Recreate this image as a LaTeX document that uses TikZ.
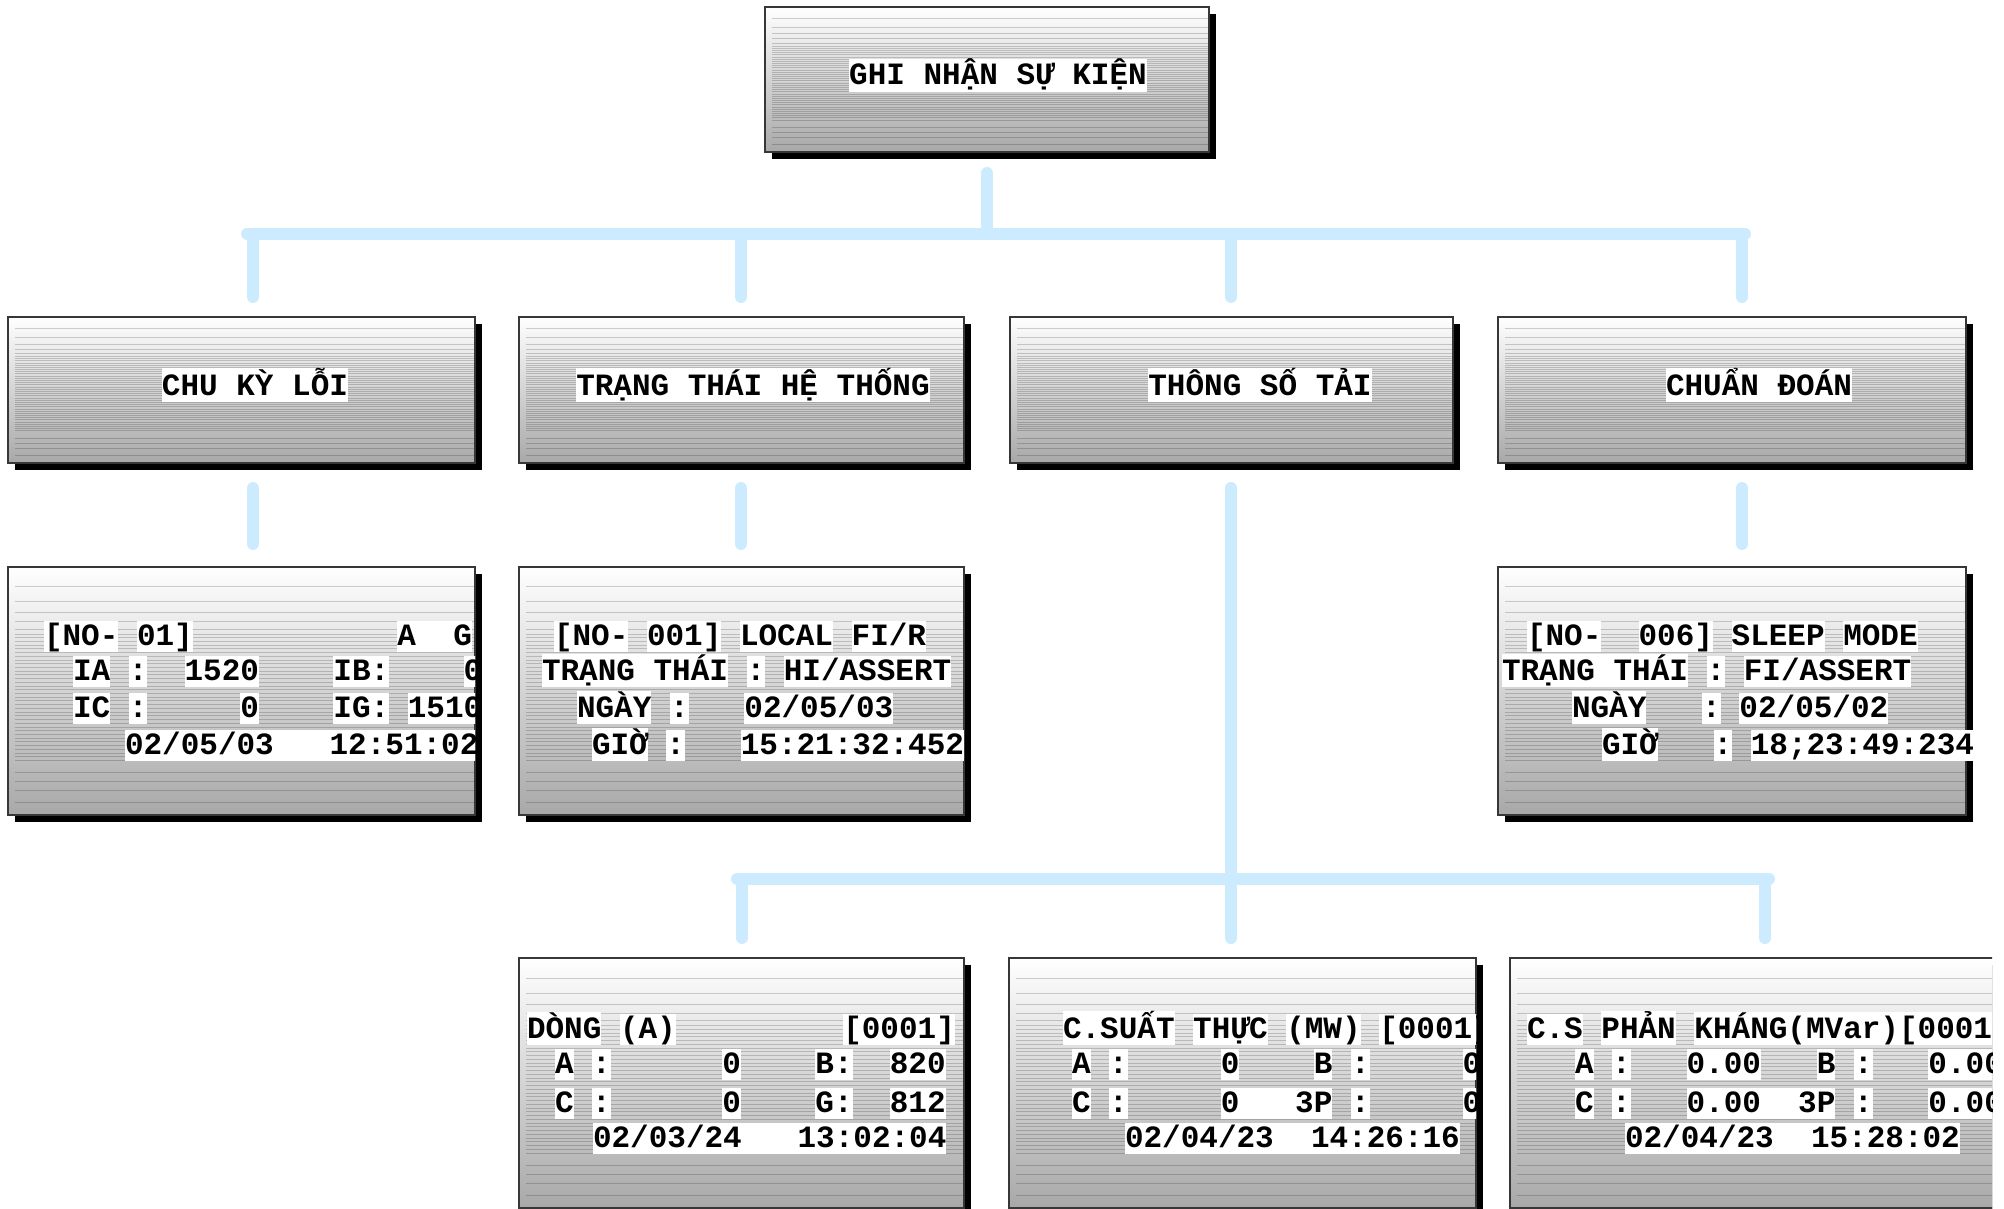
\documentclass[tikz,border=0pt]{standalone}
\usepackage{fontspec}
\newfontfamily\cmono{Liberation Mono}
\usetikzlibrary{calc,shadows}
\definecolor{conncol}{RGB}{204,235,255}
\definecolor{boxbot}{RGB}{168,168,168}
\definecolor{boxline}{RGB}{55,55,55}
\newcommand\tstrut{\rule[-0.22em]{0pt}{0.98em}}
\newcommand\W[1]{{\setlength{\fboxsep}{0pt}\colorbox{white}{\tstrut#1}}}
\begin{document}
\begin{tikzpicture}[x=1pt,y=-1pt,
  stripeln/.style={draw=black,opacity=0.18,line width=0.9pt},
  gbox/.style={draw=boxline,line width=1.2pt,top color=white,bottom color=boxbot,
    anchor=north west,inner sep=0pt,outer sep=0pt,rectangle,
    drop shadow={shadow xshift=7pt,shadow yshift=-7pt,fill=black,opacity=1},
    path picture={\foreach \f in {0.08,0.14,0.185,0.22,0.25,0.27,0.285,...,0.79,0.83,0.865,0.9,0.95}{
      \draw[stripeln] ($(path picture bounding box.north west)!\f!(path picture bounding box.south west)+(7pt,0pt)$) --
        ($(path picture bounding box.north east)!\f!(path picture bounding box.south east)$);}}},
  conn/.style={draw=conncol,line width=12pt,line cap=round},
  txt/.style={inner sep=0pt,outer sep=0pt,font=\cmono\bfseries\fontsize{31}{31}\selectfont,anchor=base west},
  ctxt/.style={txt,anchor=base}]
\useasboundingbox (0,0) rectangle (2004,1209);
\clip (0,0) rectangle (2004,1209);

% boxes
\node[gbox,minimum width=444pt,minimum height=145pt] (top) at (765,7) {};
\node[gbox,minimum width=467pt,minimum height=146pt] (l1) at (8,317) {};
\node[gbox,minimum width=445pt,minimum height=146pt] (l2) at (519,317) {};
\node[gbox,minimum width=443pt,minimum height=146pt] (l3) at (1010,317) {};
\node[gbox,minimum width=468pt,minimum height=146pt] (l4) at (1498,317) {};
\node[gbox,minimum width=467pt,minimum height=248pt] (d1) at (8,567) {};
\node[gbox,minimum width=445pt,minimum height=248pt] (d2) at (519,567) {};
\node[gbox,minimum width=468pt,minimum height=248pt] (d4) at (1498,567) {};
\node[gbox,minimum width=445pt,minimum height=250pt] (e1) at (519,958) {};
\node[gbox,minimum width=467pt,minimum height=250pt] (e2) at (1009,958) {};
\begin{scope}
\clip (1500,940) rectangle (1992,1209);
\node[gbox,minimum width=530pt,minimum height=250pt] (e3) at (1510,958) {};
\end{scope}

% connectors
\coordinate (t1) at (987,173); \coordinate (t2) at (987,234);
\coordinate (b1) at (247,234); \coordinate (b2) at (1745,234);
\coordinate (p1) at (253,297); \coordinate (p2) at (741,297);
\coordinate (p3) at (1231,297); \coordinate (p4) at (1742,297);
\coordinate (q1a) at (253,488); \coordinate (q1b) at (253,544);
\coordinate (q2a) at (741,488); \coordinate (q2b) at (741,544);
\coordinate (q4a) at (1742,488); \coordinate (q4b) at (1742,544);
\coordinate (m1) at (1231,488); \coordinate (m2) at (1231,879);
\coordinate (lb1) at (737,879); \coordinate (lb2) at (1769,879);
\coordinate (r1) at (742,938); \coordinate (r2) at (1231,938); \coordinate (r3) at (1765,938);
\draw[conn] (t1) -- (t2);
\draw[conn] (b1) -- (b2);
\draw[conn] (p1 |- b1) -- (p1);
\draw[conn] (p2 |- b1) -- (p2);
\draw[conn] (p3 |- b1) -- (p3);
\draw[conn] (p4 |- b1) -- (p4);
\draw[conn] (q1a) -- (q1b);
\draw[conn] (q2a) -- (q2b);
\draw[conn] (q4a) -- (q4b);
\draw[conn] (m1) -- (m2);
\draw[conn] (lb1) -- (lb2);
\draw[conn] (r1 |- lb1) -- (r1);
\draw[conn] (r2 |- lb1) -- (r2);
\draw[conn] (r3 |- lb1) -- (r3);

% titles
\node[ctxt] (ttop) at (998,85) {\W{GHI~NHẬN~SỰ~KIỆN}};
\node[ctxt] (tl1) at (255,395) {\W{CHU~KỲ~LỖI}};
\node[ctxt] (tl2) at (753,395) {\W{TRẠNG~THÁI~HỆ~THỐNG}};
\node[ctxt] (tl3) at (1260,395) {\W{THÔNG~SỐ~TẢI}};
\node[ctxt] (tl4) at (1759,395) {\W{CHUẨN~ĐOÁN}};

% detail 1
\begin{scope}
\clip (0,560) rectangle (475,820);
\node[txt] (d1a) at (44,645) {\W{[NO-}~\W{01]}~~~~~~~~~~~\W{A~~G}};
\node[txt] (d1b) at (73,680) {\W{IA}~\W{:}~~\W{1520}~~~~\W{IB:}~~~~\W{0}};
\node[txt] (d1c) at (73,717) {\W{IC}~\W{:}~~~~~\W{0}~~~~\W{IG:}~\W{1510}};
\node[txt] (d1d) at (125,754) {\W{02/05/03~~~12:51:02}};
\end{scope}
% detail 2
\node[txt] (d2a) at (554,645) {\W{[NO-}~\W{001]}~\W{LOCAL}~\W{FI/R}};
\node[txt] (d2b) at (542,680) {\W{TRẠNG~THÁI}~\W{:}~\W{HI/ASSERT}};
\node[txt] (d2c) at (577,717) {\W{NGÀY}~\W{:}~~~\W{02/05/03}};
\node[txt] (d2d) at (592,754) {\W{GIỜ}~\W{:}~~~\W{15:21:32:452}};
% detail 4
\node[txt] (d4a) at (1527,645) {\W{[NO-}~~\W{006]}~\W{SLEEP}~\W{MODE}};
\node[txt] (d4b) at (1502,680) {\W{TRẠNG~THÁI}~\W{:}~\W{FI/ASSERT}};
\node[txt] (d4c) at (1572,717) {\W{NGÀY}~~~\W{:}~\W{02/05/02}};
\node[txt] (d4d) at (1602,754) {\W{GIỜ}~~~\W{:}~\W{18;23:49:234}};
% bottom 1
\node[txt] (e1a) at (527,1038) {\W{DÒNG}~\W{(A)}~~~~~~~~~\W{[0001]}};
\node[txt] (e1b) at (555,1073) {\W{A}~\W{:}~~~~~~\W{0}~~~~\W{B:}~~\W{820}};
\node[txt] (e1c) at (555,1112) {\W{C}~\W{:}~~~~~~\W{0}~~~~\W{G:}~~\W{812}};
\node[txt] (e1d) at (593,1147) {\W{02/03/24~~~13:02:04}};
% bottom 2
\begin{scope}
\clip (1000,950) rectangle (1476,1209);
\node[txt] (e2a) at (1063,1038) {\W{C.SUẤT}~\W{THỰC}~\W{(MW)}~\W{[0001]}};
\node[txt] (e2b) at (1072,1073) {\W{A}~\W{:}~~~~~\W{0}~~~~\W{B}~\W{:}~~~~~\W{0}};
\node[txt] (e2c) at (1072,1112) {\W{C}~\W{:}~~~~~\W{0~~~3P}~\W{:}~~~~~\W{0}};
\node[txt] (e2d) at (1125,1147) {\W{02/04/23~~14:26:16}};
\end{scope}
% bottom 3
\begin{scope}
\clip (1500,940) rectangle (1992,1209);
\node[txt] (e3a) at (1527,1038) {\W{C.S}~\W{PHẢN}~\W{KHÁNG(MVar)[0001]}};
\node[txt] (e3b) at (1575,1073) {\W{A}~\W{:}~~~\W{0.00}~~~\W{B}~\W{:}~~~\W{0.00}};
\node[txt] (e3c) at (1575,1112) {\W{C}~\W{:}~~~\W{0.00~~3P}~\W{:}~~~\W{0.00}};
\node[txt] (e3d) at (1625,1147) {\W{02/04/23~~15:28:02}};
\end{scope}
\end{tikzpicture}
\end{document}
